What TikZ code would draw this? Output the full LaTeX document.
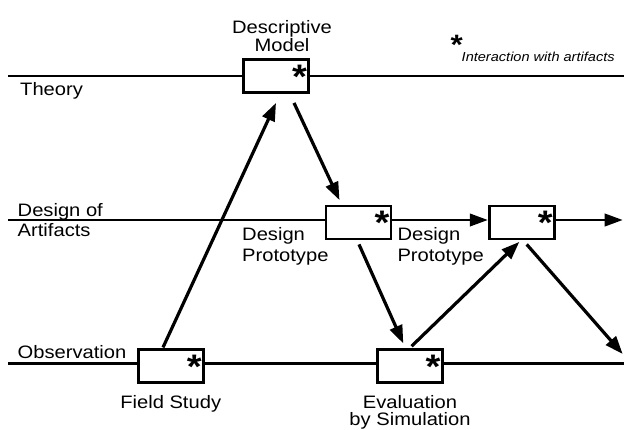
\documentclass[tikz,border=0pt]{standalone}
\usepackage{fontspec}
\setmainfont{Liberation Sans}[FakeStretch=1.12]
\usetikzlibrary{arrows.meta}
\begin{document}
\begin{tikzpicture}[x=1pt,y=-1pt,
  lane/.style={line width=2.4pt},
  artbox/.style={draw, line width=2.8pt, fill=white, minimum width=65pt, minimum height=33pt, inner sep=0pt},
  flow/.style={line width=3.2pt, -{Triangle[length=18pt,width=13pt]}},
  hflow/.style={line width=2.4pt, -{Triangle[length=18pt,width=12.5pt]}},
  lbl/.style={inner sep=0pt, font=\fontsize{18}{20}\selectfont},
  starmark/.style={inner sep=0pt, font=\fontsize{34}{34}\selectfont\bfseries, anchor=base west},
]
\useasboundingbox (0,0) rectangle (624,429);
\coordinate (tl) at (8,75.7); \coordinate (tr) at (624,75.7);
\coordinate (dl) at (8,220); \coordinate (dr) at (622.7,220);
\coordinate (ol) at (8,363.3); \coordinate (or) at (624,363.3);
\coordinate (oe) at (622.7,354);
\draw[lane] (tl) -- (tr);
\draw[lane] (ol) -- (or);
% boxes
\node[artbox] (dm) at (276,76) {};
\node[artbox] (d1) at (358.5,222.5) {};
\node[artbox] (d2) at (521.7,222.5) {};
\node[artbox] (fs) at (170.8,366.3) {};
\node[artbox] (ev) at (409.6,366.3) {};
% stars
\node[starmark] (sdm) at ([xshift=-18pt,yshift=-30pt]dm.north east) {*};
\node[starmark] (sd1) at ([xshift=-18pt,yshift=-30pt]d1.north east) {*};
\node[starmark] (sd2) at ([xshift=-18pt,yshift=-30pt]d2.north east) {*};
\node[starmark] (sfs) at ([xshift=-18pt,yshift=-30pt]fs.north east) {*};
\node[starmark] (sev) at ([xshift=-18pt,yshift=-30pt]ev.north east) {*};
% design lane
\draw[lane] (dl) -- (d1.west |- dl);
\draw[hflow] (d1.east |- dl) -- (d2.west |- dl);
\draw[hflow] (d2.east |- dl) -- (dr);
% flows
\draw[flow] ([xshift=-7.8pt,yshift=1pt]fs.north) -- ([yshift=-9pt]dm.south);
\draw[flow] ([xshift=18pt,yshift=-9pt]dm.south) -- ([xshift=-19pt,yshift=4.5pt]d1.north);
\draw[flow] ([xshift=0.5pt,yshift=-4pt]d1.south) -- ([xshift=-6.3pt,yshift=5pt]ev.north);
\draw[flow] ([xshift=2pt,yshift=2.2pt]ev.north) -- ([xshift=-2.4pt,yshift=-1.5pt]d2.south);
\draw[flow] ([xshift=5pt,yshift=-4pt]d2.south) -- (oe);
% labels (base anchor = baseline of last line)
\node[lbl, anchor=base, align=center, font=\fontsize{18}{15}\selectfont] (tdm) at (282,51.5) {Descriptive\\Model};
\node[lbl, anchor=base west] (tth) at (20,95.5) {Theory};
\node[lbl, anchor=base west, align=left, font=\fontsize{18}{20}\selectfont] (tda) at (17.5,236.7) {Design of\\Artifacts};
\node[lbl, anchor=base west, align=left, font=\fontsize{18}{21}\selectfont] (tp1) at (242,261.5) {Design\\Prototype};
\node[lbl, anchor=base west, align=left, font=\fontsize{18}{21}\selectfont] (tp2) at (397.3,261.7) {Design\\Prototype};
\node[lbl, anchor=base west] (tob) at (17.5,358.3) {Observation};
\node[lbl, anchor=base] (tfs) at (170.7,408.3) {Field Study};
\node[lbl, anchor=base, align=center, font=\fontsize{18}{17.5}\selectfont] (tev) at (410,425.8) {Evaluation\\by Simulation};
% legend
\node[starmark, font=\fontsize{28}{28}\selectfont\bfseries] (lstar) at (450.5,54) {*};
\node[inner sep=0pt, anchor=base west, font=\fontsize{13}{15}\selectfont\itshape] (leg) at (461.5,61.5) {Interaction with artifacts};
\end{tikzpicture}
\end{document}
